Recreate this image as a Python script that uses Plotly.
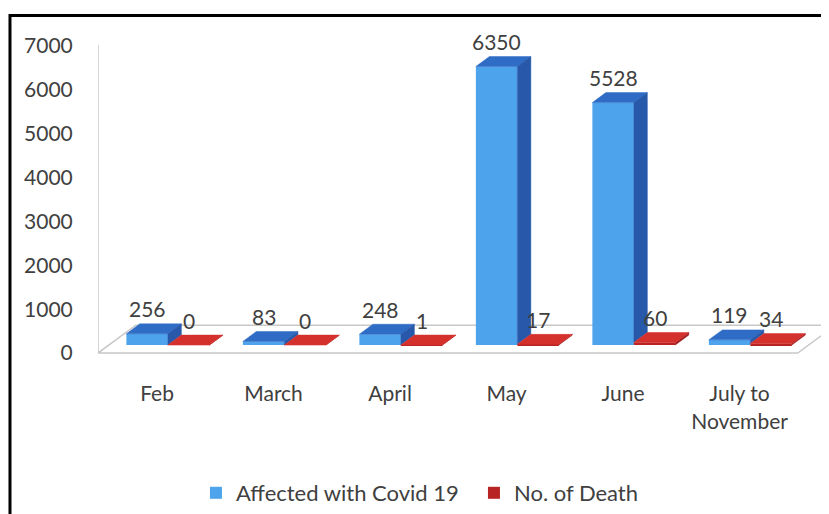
import plotly.graph_objects as go

# ---- data ----
categories = ["Feb", "March", "April", "May", "June", "July to<br>November"]
affected = [256, 83, 248, 6350, 5528, 119]
deaths = [0, 0, 1, 17, 60, 34]
y_ticks = [0, 1000, 2000, 3000, 4000, 5000, 6000, 7000]

series_names = ["Affected with Covid 19", "No. of Death"]

# ---- styling / projection constants ----
FONT = "Lato, 'Open Sans', sans-serif"
TXT = "#404040"
BLUE_FRONT, BLUE_TOP, BLUE_SIDE = "#4DA3EC", "#2F6CC6", "#2858AA"
RED_FRONT, RED_TOP, RED_SIDE = "#B82424", "#D4302C", "#A01E1E"

W = 0.356            # bar width (category units)
DXU = 0.1159         # x shift per depth unit
DYU = 227.3          # y shift per depth unit (value units)
ZF, ZB = 0.8, 1.8    # bar front/back depth
FLOOR_BACK = 2.8
XL, XR = -0.507, 5.5
X_RANGE = [-0.507, 5.768]
Y_RANGE = [-363.6, 7022.7]


def proj(x, v, z):
    return x + z * DXU, v + z * DYU


def poly(pts, color):
    xs, ys = zip(*[proj(*p) for p in pts])
    xs = list(xs) + [xs[0]]
    ys = list(ys) + [ys[0]]
    return go.Scatter(x=xs, y=ys, mode="lines", fill="toself", fillcolor=color,
                      line=dict(width=0.5, color=color), hoverinfo="skip",
                      showlegend=False)


fig = go.Figure()

n = len(categories)
idx = list(range(n))

# front faces as real bars
fig.add_trace(go.Bar(
    x=[i - W / 2 + ZF * DXU for i in idx], y=affected, base=[ZF * DYU] * n,
    width=W, marker=dict(color=BLUE_FRONT, line=dict(width=0)),
    name=series_names[0], hoverinfo="skip"))
fig.add_trace(go.Bar(
    x=[i + W / 2 + ZF * DXU for i in idx], y=deaths, base=[ZF * DYU] * n,
    width=W, marker=dict(color=RED_FRONT, line=dict(width=0)),
    name=series_names[1], hoverinfo="skip"))

# depth faces
for i in idx:
    h, hr = affected[i], deaths[i]
    x0, x1 = i - W, i
    fig.add_trace(poly([(x0, h, ZF), (x1, h, ZF), (x1, h, ZB), (x0, h, ZB)], BLUE_TOP))
    fig.add_trace(poly([(x1, hr, ZF), (x1, h, ZF), (x1, h, ZB), (x1, hr, ZB)], BLUE_SIDE))
for i in idx:
    h = deaths[i]
    x0, x1 = i, i + W
    fig.add_trace(poly([(x1, 0, ZF), (x1, h, ZF), (x1, h, ZB), (x1, 0, ZB)], RED_SIDE))
    fig.add_trace(poly([(x0, h, ZF), (x1, h, ZF), (x1, h, ZB), (x0, h, ZB)], RED_TOP))

# data labels
for i in idx:
    for val, xc in ((affected[i], i - W / 2), (deaths[i], i + W / 2)):
        fig.add_annotation(x=xc + ZF * DXU, y=val + ZF * DYU, text=str(val),
                           showarrow=False, yshift=25, yanchor="middle",
                           font=dict(family=FONT, size=21, color=TXT))

# floor and wall edge
fl = [proj(XL, 0, 0), proj(XR, 0, 0), proj(XR, 0, FLOOR_BACK), proj(XL, 0, FLOOR_BACK)]
path = "M " + " L ".join(f"{x},{y}" for x, y in fl) + " Z"
fig.add_shape(type="path", path=path, xref="x", yref="y", layer="below",
              line=dict(color="#C8C8C8", width=1.5), fillcolor="white")
fig.add_shape(type="line", xref="x", yref="y", x0=XL, x1=XL, y0=0, y1=Y_RANGE[1],
              layer="below", line=dict(color="#C8C8C8", width=1.5))

# outer frame
fig.add_shape(type="rect", xref="paper", yref="paper",
              x0=-0.1204, x1=1.05, y0=-0.55, y1=1.0908,
              line=dict(color="black", width=3), fillcolor="rgba(0,0,0,0)")

fig.update_layout(
    width=821, height=506,
    margin=dict(l=90, r=0, t=37, b=144),
    paper_bgcolor="white", plot_bgcolor="white",
    barmode="overlay",
    font=dict(family=FONT, size=21, color=TXT),
    showlegend=True,
    legend=dict(orientation="h", x=0.134, xanchor="left", y=-0.3815, yanchor="middle",
                font=dict(family=FONT, size=22, color=TXT), traceorder="normal",
                entrywidth=233, itemclick=False),
    xaxis=dict(range=X_RANGE, tickmode="array", tickvals=idx, ticktext=categories,
               showgrid=False, zeroline=False, showline=False,
               ticks="outside", ticklen=6, tickcolor="rgba(0,0,0,0)",
               tickfont=dict(family=FONT, size=21, color=TXT)),
    yaxis=dict(range=Y_RANGE, tickmode="array", tickvals=y_ticks,
               showgrid=False, zeroline=False, showline=False,
               ticks="outside", ticklen=20, tickcolor="rgba(0,0,0,0)",
               tickfont=dict(family=FONT, size=21, color=TXT)),
)

fig.write_html("out.html")
